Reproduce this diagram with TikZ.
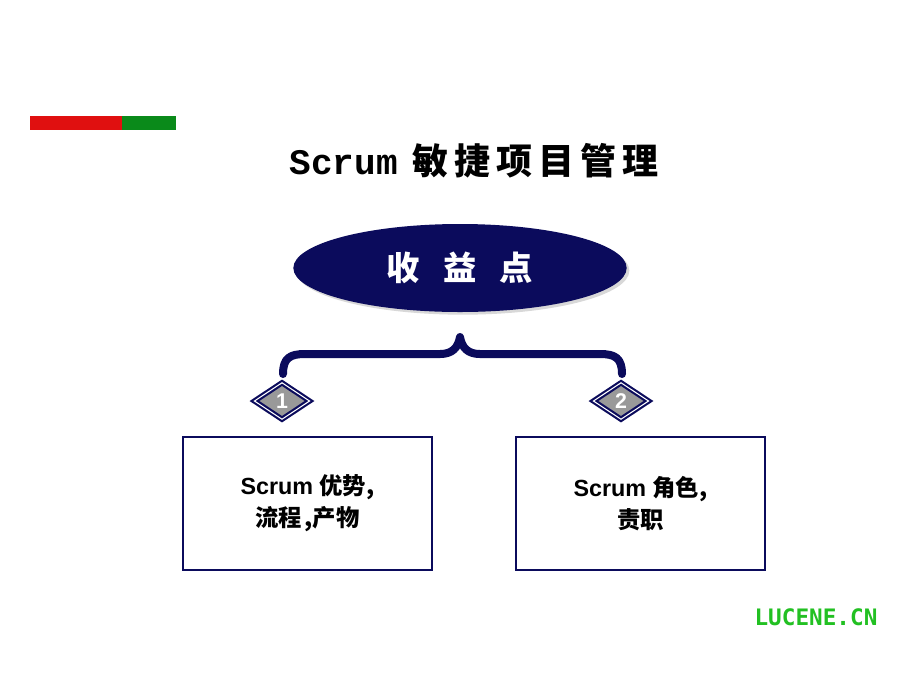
\documentclass[tikz,border=0pt]{standalone}
\usepackage{fontspec}
\setmainfont{Liberation Sans}
\newfontfamily\cjk{Noto Sans CJK SC}
\usetikzlibrary{shapes.geometric,shadows}
\definecolor{navy}{HTML}{0B0B5C}
\definecolor{rbar}{HTML}{E01010}
\definecolor{gbar}{HTML}{0A8A1A}
\definecolor{lgreen}{HTML}{22C022}
\tikzset{
 box/.style={draw=navy,line width=1.6pt,minimum width=186.75pt,minimum height=99.75pt,align=center,font=\bfseries\fontsize{17.5}{24}\selectfont},
 dia/.style={diamond,draw=navy,fill=gray!80,line width=1.6pt,double=white,double distance=0.8pt,minimum width=42pt,minimum height=28pt,inner sep=0pt,font=\bfseries\fontsize{16}{16}\selectfont,text=white}
}
\begin{document}
\begin{tikzpicture}[x=0.75pt,y=-0.75pt]
\path[fill=white] (0,0) rectangle (920,690);
\fill[rbar] (30,116) rectangle (122,130);
\fill[gbar] (122,116) rectangle (176,130);
\node (title) at (474,161) {\bfseries\fontsize{27}{30}\selectfont {\fontspec{Liberation Mono}Scrum}\hspace{0.4em}{\cjk 敏\,捷\,项\,目\,管\,理}};
\node[ellipse,fill=navy,minimum width=250pt,minimum height=66pt,drop shadow={shadow xshift=2pt,shadow yshift=-2pt,fill=gray!60}] (e) at (460,268) {};
\node[text=white] at (e) {\cjk\bfseries\fontsize{25}{28}\selectfont 收\hspace{0.7em}益\hspace{0.7em}点};
\coordinate (bt) at (460,337);
\draw[navy,line width=6pt,line cap=round,line join=round]
 (283,374) .. controls (283,358) and (290,354) .. (305,354) -- (440,354)
 .. controls (452,354) and (458,348) .. (bt)
 .. controls (462,348) and (468,354) .. (480,354) -- (600,354)
 .. controls (615,354) and (622,358) .. (622,374);
\node[dia] (d1) at (282,401) {1};
\node[dia] (d2) at (621,401) {2};
\node[box] (b1) at (307.5,503.5) {Scrum {\cjk 优势,}\\{\cjk 流程}\hspace{0.1em}{\cjk ,产物}};
\node[box] (b2) at (640.5,503.5) {Scrum {\cjk 角色,}\\{\cjk 责职}};
\node[text=lgreen] (logo) at (816,617) {\fontspec{DejaVu Sans Mono}\bfseries\fontsize{17}{17}\selectfont LUCENE.CN};
\end{tikzpicture}
\end{document}
